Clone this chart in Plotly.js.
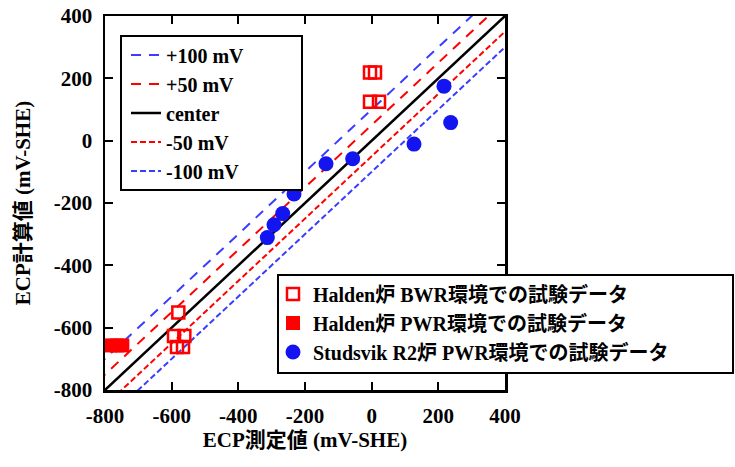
<!DOCTYPE html>
<html><head><meta charset="utf-8">
<script src="https://cdn.plot.ly/plotly-3.0.1.min.js"></script>
<style>html,body{margin:0;padding:0;background:#fff;}</style>
</head><body><div id="chart" style="width:735px;height:467px;"></div>
<script>
// Reference lines (endpoints)
const lineX = [-900, 500];
const plus100Y = [-800, 600];
const plus50Y = [-850, 550];
const centerY = [-900, 500];
const minus50Y = [-950, 450];
const minus100Y = [-1000, 400];

// Halden BWR (open squares)
const bwrX = [-5, 10, -5, 22, -580, -593, -562, -584, -566];
const bwrY = [219, 219, 125, 125, -551, -627, -627, -662, -662];
// Halden PWR (filled squares)
const pwrX = [-785, -765, -748];
const pwrY = [-657, -657, -657];
// Studsvik R2 PWR (circles)
const stX = [-313, -293, -267, -233, -137, -57, 127, 217, 237];
const stY = [-311, -270, -234, -171, -74, -58, -11, 175, 58];

const tickVals = [-800, -600, -400, -200, 0, 200, 400];
const tickText = ['-800', '-600', '-400', '-200', '0', '200', '400'];

const lineNames = ['+100 mV', '+50 mV', 'center', '-50 mV', '-100 mV'];
const seriesNames = ['Halden炉 BWR環境での試験データ', 'Halden炉 PWR環境での試験データ', 'Studsvik R2炉 PWR環境での試験データ'];

const FONT = "'Liberation Serif', 'Noto Sans CJK JP', serif";
const blueLine = '#3c3cff', red = '#ff0000';
const FS = 21, LFS = 20;

function lineTrace(y, name, color, dash, w) {
  return {x: lineX, y: y, name: name, mode: 'lines', type: 'scatter', legend: 'legend',
    legendgroup: 'lines', line: {color: color, width: w, dash: dash}, hoverinfo: 'skip'};
}

const traces = [
  lineTrace(plus100Y, lineNames[0], blueLine, '10px,8px', 2),
  lineTrace(plus50Y, lineNames[1], red, '10px,8px', 2),
  lineTrace(centerY, lineNames[2], '#000000', 'solid', 2.5),
  lineTrace(minus50Y, lineNames[3], red, '6px,3px', 2),
  lineTrace(minus100Y, lineNames[4], blueLine, '6px,3px', 2),
  {x: bwrX, y: bwrY, name: seriesNames[0], mode: 'markers', type: 'scatter', legend: 'legend2', legendgroup: 'pts',
    marker: {symbol: 'square-open', size: 12, color: red, line: {width: 2.5, color: red}}},
  {x: pwrX, y: pwrY, name: seriesNames[1], mode: 'markers', type: 'scatter', legend: 'legend2', legendgroup: 'pts',
    marker: {symbol: 'square', size: 14, color: red}},
  {x: stX, y: stY, name: seriesNames[2], mode: 'markers', type: 'scatter', legend: 'legend2', legendgroup: 'pts',
    marker: {symbol: 'circle', size: 15, color: '#1414f0'}}
];

const axisCommon = {
  showgrid: false, zeroline: false, showline: true, linecolor: '#000', linewidth: 2.5, mirror: 'ticks',
  ticks: 'inside', ticklen: 8, tickwidth: 2, tickcolor: '#000',
  tickvals: tickVals, ticktext: tickText,
  tickfont: {family: FONT, size: FS, color: '#000', weight: 'bold'}
};

const legendFont = {family: FONT, size: LFS, color: '#000', weight: 'bold'};

const layout = {
  width: 735, height: 467,
  margin: {l: 105, r: 230, t: 16, b: 77},
  paper_bgcolor: '#fff', plot_bgcolor: '#fff',
  font: {family: FONT, color: '#000'},
  xaxis: Object.assign({}, axisCommon, {range: [-800, 400], ticklabelstandoff: 5,
    title: {text: 'ECP測定値 (mV-SHE)', font: {family: FONT, size: FS, weight: 'bold'}, standoff: 5}}),
  yaxis: Object.assign({}, axisCommon, {range: [-800, 400], ticklabelstandoff: 6,
    title: {text: 'ECP計算値 (mV-SHE)', font: {family: FONT, size: FS, weight: 'bold'}, standoff: 18}}),
  showlegend: true,
  legend: {x: 0.0525, y: 0.948, xanchor: 'left', yanchor: 'top', xref: 'paper', yref: 'paper',
    bgcolor: 'rgba(0,0,0,0)', borderwidth: 0, tracegroupgap: 0, font: legendFont},
  legend2: {x: 0.42, y: 0.3088, xanchor: 'left', yanchor: 'top', xref: 'paper', yref: 'paper',
    bgcolor: 'rgba(0,0,0,0)', borderwidth: 0, tracegroupgap: 0, font: legendFont},
  shapes: [
    {type: 'rect', xref: 'paper', yref: 'paper', x0: 0.04, x1: 0.4925, y0: 0.5348, y1: 0.9465,
      layer: 'above', fillcolor: '#fff', line: {color: '#000', width: 2}},
    {type: 'rect', xref: 'paper', yref: 'paper', x0: 0.4325, x1: 1.57, y0: 0.0455, y1: 0.3075,
      layer: 'above', fillcolor: '#fff', line: {color: '#000', width: 2}}
  ]
};

Plotly.newPlot('chart', traces, layout, {staticPlot: true, displayModeBar: false});
</script></body></html>
